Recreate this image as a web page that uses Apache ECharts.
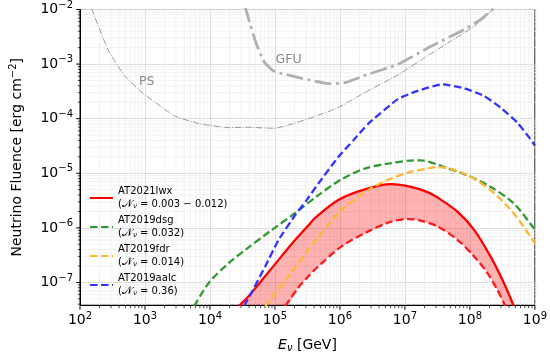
<!DOCTYPE html>
<html><head><meta charset="utf-8">
<script src="https://cdn.jsdelivr.net/npm/echarts@6/dist/echarts.min.js"></script>
<style>html,body{margin:0;padding:0;background:#fff}#c{width:550px;height:358px}</style>
</head><body><div id="c"></div>
<script>
// ---- data (energy in GeV, fluence in erg cm^-2) ----
const xTickValues = [1e2, 1e3, 1e4, 1e5, 1e6, 1e7, 1e8, 1e9];
const yTickValues = [1e-7, 1e-6, 1e-5, 1e-4, 1e-3, 1e-2];

const psE  = [150, 268, 488, 918, 2830, 6820, 19600, 39600, 95500, 8.37e5, 2.41e6, 7.78e6, 1.99e7, 5.07e7, 1.16e8, 2.35e8];
const psF  = [1.05e-2, 1.87e-3, 6.05e-4, 2.97e-4, 1.13e-4, 8.1e-5, 6.86e-5, 6.95e-5, 6.67e-5, 1.5e-4, 3.0e-4, 6.3e-4, 1.3e-3, 2.62e-3, 4.91e-3, 1.05e-2];

const gfuE = [3.44e4, 3.96e4, 5.01e4, 6.71e4, 9.55e4, 2.59e5, 7.03e5, 1.19e6, 2.7e6, 7.78e6, 2.51e7, 8.13e7, 1.46e8, 2.2e8, 2.62e8];
const gfuF = [1.18e-2, 6.5e-3, 2.62e-3, 1.13e-3, 7.46e-4, 5.5e-4, 4.38e-4, 4.57e-4, 6.5e-4, 9.9e-4, 2.12e-3, 4.27e-3, 6.5e-3, 9.9e-3, 1.13e-2];

const aalcE = [3.33e4, 4.21e4, 7.1e4, 1.14e5, 2.05e5, 3.08e5, 4.66e5, 9.4e5, 1.6e6, 2.7e6, 7.78e6, 1.57e7, 3.79e7, 8.13e7, 1.64e8, 2.95e8, 5.31e8, 8.47e8, 1e9];
const aalcF = [3.7e-8, 6.05e-8, 1.98e-7, 6.05e-7, 1.72e-6, 3.23e-6, 6.5e-6, 1.98e-5, 3.98e-5, 8.0e-5, 2.28e-4, 3.23e-4, 4.27e-4, 3.61e-4, 2.62e-4, 1.6e-4, 8.57e-5, 4.27e-5, 3.23e-5];

const dsgE = [5.73e3, 9.7e3, 1.96e4, 3.53e4, 9.0e4, 2.05e5, 4.66e5, 1.06e6, 2.41e6, 5.47e6, 1.4e7, 1.77e7, 4.02e7, 9.1e7, 2.07e8, 4.72e8, 9.55e8, 1e9];
const dsgF = [3.7e-8, 1.0e-7, 2.28e-7, 3.98e-7, 9.2e-7, 1.87e-6, 3.98e-6, 7.78e-6, 1.22e-5, 1.5e-5, 1.72e-5, 1.72e-5, 1.30e-5, 9.2e-6, 5.64e-6, 2.81e-6, 9.9e-7, 8.8e-7];

const fdrE = [7.1e4, 1.62e5, 2.30e5, 3.27e5, 4.66e5, 1.06e6, 2.7e6, 6.14e6, 1.24e7, 2.23e7, 3.18e7, 8.13e7, 2.07e8, 4.72e8, 9.55e8, 1e9];
const fdrF = [3.7e-8, 1.30e-7, 2.21e-7, 3.98e-7, 6.86e-7, 2.12e-6, 4.91e-6, 8.0e-6, 1.06e-5, 1.22e-5, 1.30e-5, 9.9e-6, 4.91e-6, 1.85e-6, 5.64e-7, 5.2e-7];

const lwxHighE = [2.79e4, 3.96e4, 9.0e4, 1.82e5, 3.27e5, 4.15e5, 9.4e5, 2.41e6, 6.14e6, 1.24e7, 2.23e7, 3.18e7, 6.42e7, 1.16e8, 2.07e8, 3.32e8, 4.72e8];
const lwxHighF = [3.7e-8, 5.64e-8, 1.85e-7, 5.12e-7, 1.11e-6, 1.52e-6, 3.23e-6, 5.06e-6, 6.31e-6, 5.64e-6, 4.52e-6, 3.59e-6, 1.98e-6, 9.2e-7, 3.0e-7, 9.9e-8, 3.7e-8];

const lwxLowE = [1.44e5, 2.30e5, 3.27e5, 4.66e5, 1.06e6, 2.41e6, 6.14e6, 1.1e7, 1.57e7, 3.18e7, 6.42e7, 1.16e8, 1.85e8, 2.62e8, 3.52e8];
const lwxLowF = [3.7e-8, 8.1e-8, 1.30e-7, 1.98e-7, 4.57e-7, 8.0e-7, 1.3e-6, 1.44e-6, 1.40e-6, 1.06e-6, 6.05e-7, 3.0e-7, 1.5e-7, 7.46e-8, 3.7e-8];

const legendNames = ['AT2021lwx', 'AT2019dsg', 'AT2019fdr', 'AT2019aalc'];
const legendNu = ['0.003 \u2212 0.012', '0.032', '0.014', '0.36'];

const xMin = 1e2, xMax = 1e9, yMin = Math.pow(10, -7.413), yMax = 1e-2;

// ---- chart ----
const FONT = 'DejaVu Sans';
const SMOOTH = 0.3;
const chart = echarts.init(document.getElementById('c'), null, {renderer: 'canvas', width: 550, height: 358});

function powLabel(v) {
  const e = Math.log10(v), r = Math.round(e);
  if (Math.abs(e - r) > 1e-6) return '';
  return '{b|10}{s|' + (r < 0 ? '\u2212' + (-r) : '' + r) + '}';
}
const tickRich = {
  b: {fontSize: 14, fontFamily: FONT, color: '#000'},
  s: {fontSize: 10, fontFamily: FONT, color: '#000', padding: [0, 0, 9, 0]}
};
const pairs = (E, F) => E.map((e, i) => [e, F[i]]);
function lineSeries(name, E, F, color, width, dash, z, smooth) {
  return {
    type: 'line', name, data: pairs(E, F), symbol: 'none', showSymbol: false, smooth: smooth || false,
    lineStyle: {color, width, type: dash}, itemStyle: {color}, z, clip: true, silent: true
  };
}
const DASH = [7.5, 3.5];
const nuMap = {};
legendNames.forEach((n, i) => nuMap[n] = legendNu[i]);

const option = {
  animation: false,
  backgroundColor: '#fff',
  grid: {left: 80, right: 12, top: 8, bottom: 52, show: true, borderColor: '#000', borderWidth: 1, containLabel: false},
  xAxis: {
    type: 'log', logBase: 10, min: xMin, max: xMax,
    axisLine: {show: true, lineStyle: {color: '#000', width: 1}},
    axisTick: {show: false},
    axisLabel: {formatter: powLabel, margin: 6, rich: tickRich, fontFamily: FONT},
    splitLine: {show: true, lineStyle: {color: '#d4d4d4', width: 0.8}},
    name: '{i|E}{v|\u03bd}{r| [GeV]}', nameLocation: 'middle', nameGap: 32,
    nameTextStyle: {rich: {
      i: {fontSize: 14, fontFamily: FONT, fontStyle: 'italic', color: '#000'},
      v: {fontSize: 10, fontFamily: FONT, fontStyle: 'italic', color: '#000', padding: [6, 0, 0, 0]},
      r: {fontSize: 14, fontFamily: FONT, color: '#000'}
    }}
  },
  yAxis: {
    type: 'log', logBase: 10, min: yMin, max: yMax,
    axisLine: {show: true, lineStyle: {color: '#000', width: 1}},
    axisTick: {show: false},
    axisLabel: {formatter: powLabel, margin: 7, rich: tickRich, fontFamily: FONT},
    splitLine: {show: true, lineStyle: {color: '#d4d4d4', width: 0.8}},
    name: '{r|Neutrino Fluence [erg cm}{s|\u22122}{r|]}', nameLocation: 'middle', nameGap: 53,
    nameTextStyle: {rich: {
      r: {fontSize: 14, fontFamily: FONT, color: '#000'},
      s: {fontSize: 10, fontFamily: FONT, color: '#000', padding: [0, 0, 9, 0]}
    }}
  },
  legend: {
    data: legendNames, orient: 'vertical', left: 84, top: 180,
    itemWidth: 23, itemHeight: 10, itemGap: 3, padding: 5,
    selectedMode: false,
    itemStyle: {opacity: 0},
    formatter: name => '{t|' + name + '}\n{t|(}{n|\u{1D4A9}}{v|\u03bd}{t| = ' + nuMap[name] + ')}',
    textStyle: {fontFamily: FONT, fontSize: 10, lineHeight: 13, color: '#000', rich: {
      t: {fontSize: 10, fontFamily: FONT, color: '#000', lineHeight: 13},
      n: {fontSize: 10.5, fontFamily: FONT, color: '#000', lineHeight: 13},
      v: {fontSize: 7, fontFamily: FONT, fontStyle: 'italic', color: '#000', lineHeight: 13, padding: [4, 0, 0, 0]}
    }}
  },
  series: [
    {
      type: 'custom', name: 'lwxBand', coordinateSystem: 'cartesian2d', clip: true, silent: true, z: 1,
      data: [[lwxHighE[0], lwxHighF[0]]], encode: {x: 0, y: 1},
      renderItem: function (params, api) {
        const pts = [];
        for (let i = 0; i < lwxHighE.length; i++) pts.push(api.coord([lwxHighE[i], lwxHighF[i]]));
        for (let i = lwxLowE.length - 1; i >= 0; i--) pts.push(api.coord([lwxLowE[i], lwxLowF[i]]));
        return {type: 'polygon', shape: {points: pts, smooth: SMOOTH}, style: {fill: 'rgba(255,0,0,0.3)', stroke: 'none'}};
      }
    },
    lineSeries('AT2021lwx', lwxHighE, lwxHighF, '#ff0000', 2.3, 'solid', 3, SMOOTH),
    lineSeries('AT2021lwx low', lwxLowE, lwxLowF, '#ff1a1a', 2.3, DASH, 3, SMOOTH),
    lineSeries('AT2019dsg', dsgE, dsgF, '#339933', 2.3, DASH, 3, SMOOTH),
    lineSeries('AT2019fdr', fdrE, fdrF, '#ffb733', 2.3, DASH, 3, SMOOTH),
    lineSeries('AT2019aalc', aalcE, aalcF, '#3333ff', 2.3, DASH, 3, 0.15),
    Object.assign(lineSeries('PS', psE, psF, '#999999', 1, [6.4, 1.6, 1, 1.6], 2, 0.15), {
      markPoint: {symbol: 'circle', symbolSize: 0, silent: true,
        label: {show: true, position: 'inside', formatter: 'PS', color: '#888', fontSize: 12.5, fontFamily: FONT},
        data: [{coord: [1060, 4.7e-4]}]}
    }),
    Object.assign(lineSeries('GFU', gfuE, gfuF, '#b0b0b0', 2.8, [17, 4.5, 2.8, 4.5], 2, 0.15), {
      markPoint: {symbol: 'circle', symbolSize: 0, silent: true,
        label: {show: true, position: 'inside', formatter: 'GFU', color: '#888', fontSize: 12.5, fontFamily: FONT},
        data: [{coord: [1.62e5, 1.18e-3]}]}
    })
  ]
};
chart.setOption(option);

// minor grid lines and ticks (log minor positions 2..9 x 10^n), mapped through the axes
const gx0 = 80, gx1 = 538, gy0 = 8, gy1 = 306;
const els = [];
const toX = v => chart.convertToPixel({xAxisIndex: 0}, v);
const toY = v => chart.convertToPixel({yAxisIndex: 0}, v);
for (let d = 2; d < 9; d++) for (let m = 2; m <= 9; m++) {
  const px = toX(m * Math.pow(10, d));
  els.push({type: 'line', silent: true, z: 0, shape: {x1: px, y1: gy0, x2: px, y2: gy1}, style: {stroke: '#ececec', lineWidth: 0.7}});
  els.push({type: 'line', silent: true, z: 5, shape: {x1: px, y1: gy1, x2: px, y2: gy1 + 2.2}, style: {stroke: '#000', lineWidth: 0.7}});
}
for (let d = -8; d < -2; d++) for (let m = 2; m <= 9; m++) {
  const v = m * Math.pow(10, d);
  if (v <= yMin || v >= yMax) continue;
  const py = toY(v);
  els.push({type: 'line', silent: true, z: 0, shape: {x1: gx0, y1: py, x2: gx1, y2: py}, style: {stroke: '#ececec', lineWidth: 0.7}});
  els.push({type: 'line', silent: true, z: 5, shape: {x1: gx0 - 2.2, y1: py, x2: gx0, y2: py}, style: {stroke: '#000', lineWidth: 0.7}});
}
xTickValues.forEach(v => {
  const px = toX(v);
  els.push({type: 'line', silent: true, z: 5, shape: {x1: px, y1: gy1, x2: px, y2: gy1 + 3.8}, style: {stroke: '#000', lineWidth: 1}});
});
yTickValues.forEach(v => {
  const py = toY(v);
  els.push({type: 'line', silent: true, z: 5, shape: {x1: gx0 - 3.8, y1: py, x2: gx0, y2: py}, style: {stroke: '#000', lineWidth: 1}});
});
chart.setOption({graphic: {elements: els}});
</script>
</body></html>
